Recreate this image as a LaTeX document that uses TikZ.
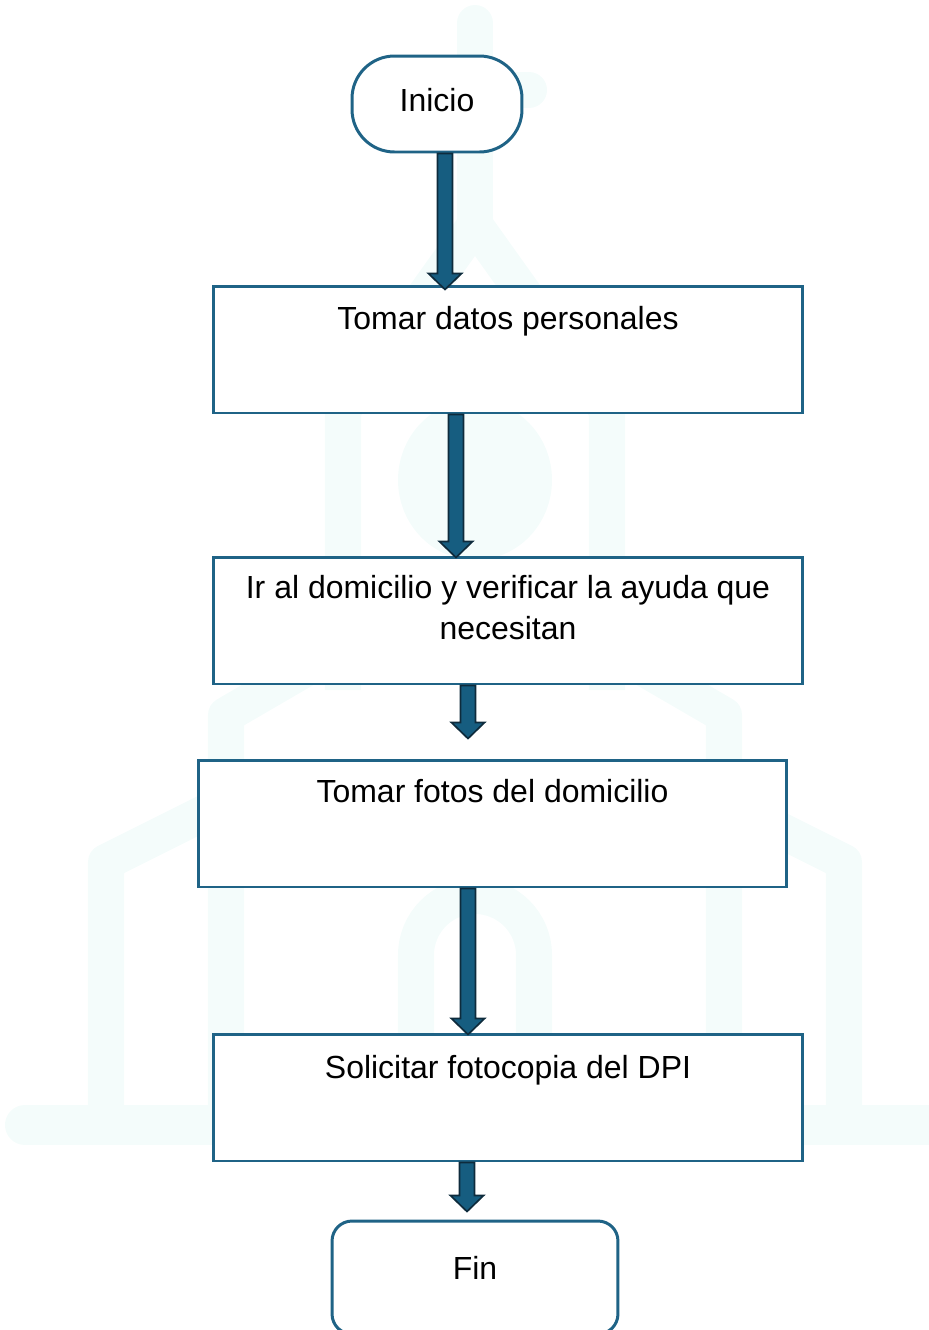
\documentclass[tikz,border=0pt]{standalone}
\usepackage{fontspec}
\setmainfont{Liberation Sans}
\usetikzlibrary{calc}

\definecolor{borde}{HTML}{1F6386}
\definecolor{relleno}{HTML}{165D80}
\definecolor{contorno}{HTML}{0E2B3C}
\definecolor{fondo}{HTML}{F4FCFB}

% flecha gruesa: #1 arranque, #2 punta
\newcommand{\flecha}[2]{%
\filldraw[flechagruesa]
let \p1=(#1), \p2=(#2) in
(\x1-4.3pt,\y1) -- (\x1+4.3pt,\y1)
-- (\x1+4.3pt,\y2+9.1pt) -- (\x1+9.4pt,\y2+9.1pt)
-- (\x1,\y2)
-- (\x1-9.4pt,\y2+9.1pt) -- (\x1-4.3pt,\y2+9.1pt)
-- cycle;}

\begin{document}
\begin{tikzpicture}[x=0.02cm,y=-0.02cm,
caja/.style={draw=borde,fill=white,line width=1.7pt,rectangle,inner sep=0pt,
minimum width=11.8cm,minimum height=2.54cm},
terminal/.style={draw=borde,fill=white,line width=1.7pt,rectangle,inner sep=0pt},
texto/.style={anchor=base,inner sep=0pt,align=center,
font=\fontsize{18.2}{23.3}\selectfont},
flechagruesa/.style={fill=relleno,draw=contorno,line width=0.95pt,line join=miter}]

\useasboundingbox (0,0) rectangle (929,1330);

% Iglesia de fondo
\begin{scope}[draw=fondo,line width=20.5pt,line join=round]
\draw[line cap=round]
(475,23)
--
(475,225);
\draw[line cap=round]
(421,90)
--
(529,90);
\draw
(343,690)
--
(343,410)
--
(475,225)
--
(607,410)
--
(607,690);
\draw
(343,647)
--
(226,715)
--
(226,1110);
\draw
(226,802)
--
(106,862)
--
(106,1110);
\draw
(607,647)
--
(724,715)
--
(724,1110);
\draw
(724,802)
--
(844,862)
--
(844,1110);
\draw
(416,1110)
--
(416,955)
arc[start angle=180,end angle=360,radius=59]
--
(534,1110);
\draw[line width=22.8pt,line cap=round]
(25,1125)
--
(960,1125);
\end{scope}
\fill[fondo] (475,480) ellipse [x radius=77,y radius=80];

% Inicio
\node[terminal,rounded corners=0.85cm,minimum width=3.4cm,minimum height=1.92cm]
(ini) at (437,104) {};
\node[texto] (tini) at (437,111) {Inicio};

% Tomar datos
\node[caja] (b1) at (508,349.5) {};
\node[texto] (tb1) at (508,329) {Tomar datos personales};

% Domicilio
\node[caja] (b2) at (508,620.5) {};
\node[texto] (tb2) at (508,639) {Ir al domicilio y verificar la ayuda que\\necesitan};

% Fotos
\node[caja,minimum width=11.78cm] (b3) at (492.5,823.5) {};
\node[texto] (tb3) at (492.5,802) {Tomar fotos del domicilio};

% DPI
\node[caja] (b4) at (508,1097.5) {};
\node[texto] (tb4) at (508,1078) {Solicitar fotocopia del DPI};

% Fin
\node[terminal,rounded corners=0.4cm,minimum width=5.72cm,minimum height=2.26cm]
(fin) at (475,1277.5) {};
\node[texto] (tfin) at (475,1279) {Fin};

% Flechas
\coordinate (c1) at (445,0);
\coordinate (c2) at (456,0);
\coordinate (c3) at (468,0);
\coordinate (c5) at (467,0);

\flecha{ini.south -| c1}{$(b1.north -| c1)+(0,5)$}
\flecha{b1.south -| c2}{$(b2.north -| c2)+(0,2)$}
\flecha{b2.south -| c3}{$(b3.north -| c3)+(0,-20)$}
\flecha{b3.south -| c3}{$(b4.north -| c3)+(0,2)$}
\flecha{b4.south -| c5}{$(fin.north -| c5)+(0,-8)$}

\end{tikzpicture}
\end{document}
